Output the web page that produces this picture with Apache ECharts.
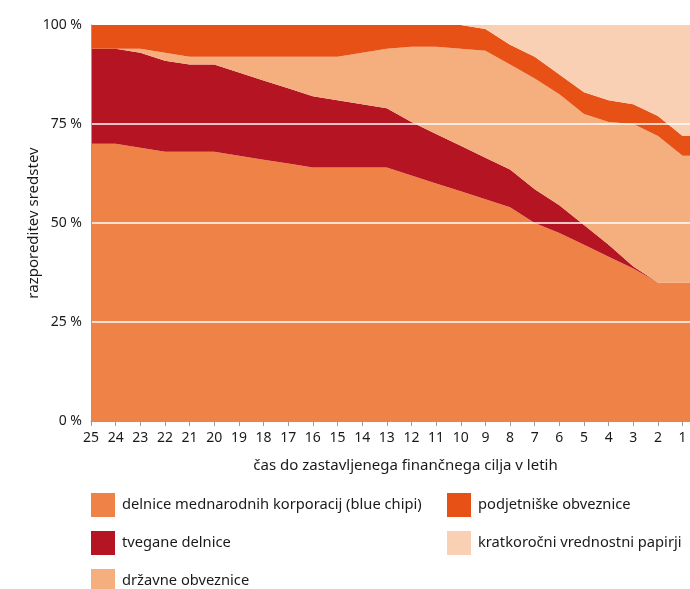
<!DOCTYPE html>
<html>
<head>
<meta charset="utf-8">
<title>razporeditev sredstev</title>
<script src="https://cdn.jsdelivr.net/npm/echarts@6/dist/echarts.min.js"></script>
<style>
    html, body { margin: 0; padding: 0; background: #fff; }
    #chart { width: 690px; height: 589px; }
</style>
</head>
<body>
<div id="chart"></div>
<script>
// leta do cilja (os x gre od 25 proti 1)
const years = [25, 24, 23, 22, 21, 20, 19, 18, 17, 16, 15, 14, 13, 12, 11, 10, 9, 8, 7, 6, 5, 4, 3, 2, 1];
const xEdge = 0.7; // desni rob risbe je malo za letom 1

// deleži v % (od spodaj navzgor)
const blueChips = [70, 70, 69, 68, 68, 68, 67, 66, 65, 64, 64, 64, 64, 62, 60, 58, 56, 54, 50, 47.5, 44.5, 41.5, 38.5, 35, 35];
const riskyStocks = [24, 24, 24, 23, 22, 22, 21, 20, 19, 18, 17, 16, 15, 13.5, 12.5, 11.5, 10.5, 9.5, 8.5, 7, 5, 3, 0.5, 0, 0];
const govBonds = [0, 0, 1, 2, 2, 2, 4, 6, 8, 10, 11, 13, 15, 19, 22, 24.5, 27, 26.5, 28, 28, 28, 31, 36, 37, 32];
const corpBonds = [6, 6, 6, 7, 8, 8, 8, 8, 8, 8, 8, 7, 6, 5.5, 5.5, 6, 5.5, 5, 5.5, 5, 5.5, 5.5, 5, 5, 5];
const shortTerm = [0, 0, 0, 0, 0, 0, 0, 0, 0, 0, 0, 0, 0, 0, 0, 0, 1, 5, 8, 12.5, 17, 19, 20, 23, 28];

const yTicks = [0, 25, 50, 75, 100];
const gridLines = [25, 50, 75];

const SERIES = [
    { name: 'delnice mednarodnih korporacij (blue chipi)', values: blueChips, color: '#EE8247' },
    { name: 'tvegane delnice', values: riskyStocks, color: '#B51522' },
    { name: 'državne obveznice', values: govBonds, color: '#F5AF7F' },
    { name: 'podjetniške obveznice', values: corpBonds, color: '#E85116' },
    { name: 'kratkoročni vrednostni papirji', values: shortTerm, color: '#F9D0B4' }
];

// mesta legend: [left, top] (legenda ima še 5 px notranjega roba)
const LEGEND_POS = [[86, 488], [86, 526], [86, 564], [442, 488], [442, 526]];

const FONT = 'Noto Sans';
const TEXT = '#1a1a1a';

function toPairs(values) {
    // [vrednost, leto] -> prva dimenzija je tista, ki se sešteva
    const pts = years.map((y, i) => [values[i], y]);
    pts.push([values[values.length - 1], xEdge]);
    return pts;
}

function buildSeries() {
    return SERIES.map((s, idx) => {
        const item = {
            name: s.name,
            type: 'line',
            stack: 'total',
            data: toPairs(s.values),
            encode: { x: 1, y: 0 },
            showSymbol: false,
            symbol: 'none',
            lineStyle: { width: 0 },
            itemStyle: { color: s.color },
            areaStyle: { color: s.color, opacity: 1 },
            silent: true
        };
        if (idx === SERIES.length - 1) {
            item.markLine = {
                silent: true,
                symbol: 'none',
                label: { show: false },
                lineStyle: { color: '#ffffff', width: 1.5, type: 'solid' },
                data: gridLines.map((v) => ({ yAxis: v }))
            };
        }
        return item;
    });
}

function buildLegends() {
    return SERIES.map((s, i) => ({
        left: LEGEND_POS[i][0],
        top: LEGEND_POS[i][1],
        icon: 'rect',
        itemWidth: 24,
        itemHeight: 24,
        selectedMode: false,
        textStyle: { fontFamily: FONT, fontSize: 14.7, color: TEXT, padding: [0, 0, 0, 2] },
        data: [s.name]
    }));
}

document.addEventListener('DOMContentLoaded', () => {
    const chart = echarts.init(document.getElementById('chart'), null, { renderer: 'canvas' });

    chart.setOption({
        animation: false,
        backgroundColor: '#ffffff',
        grid: { left: 91, right: 0, top: 25, bottom: 168 },
        legend: buildLegends(),
        xAxis: {
            type: 'value',
            inverse: true,
            min: xEdge,
            max: 25,
            z: 10,
            name: 'čas do zastavljenega finančnega cilja v letih',
            nameLocation: 'middle',
            nameGap: 37,
            nameTextStyle: { fontFamily: FONT, fontSize: 15, color: TEXT, padding: [0, 0, 0, 30] },
            axisLine: { show: true, lineStyle: { color: '#9a9a9a', width: 1 } },
            axisTick: { show: true, length: 5, customValues: years, lineStyle: { color: '#9a9a9a' } },
            axisLabel: { customValues: years, margin: 10, fontFamily: FONT, fontSize: 14, color: TEXT },
            splitLine: { show: false }
        },
        yAxis: {
            type: 'value',
            min: 0,
            max: 100,
            interval: 25,
            z: 10,
            name: 'razporeditev sredstev',
            nameLocation: 'middle',
            nameGap: 50,
            nameMoveOverlap: false,
            nameRotate: 90,
            nameTextStyle: { fontFamily: FONT, fontSize: 15, color: TEXT },
            axisLine: { show: true, lineStyle: { color: '#9a9a9a', width: 1 } },
            axisTick: { show: false },
            axisLabel: {
                margin: 9,
                fontFamily: FONT,
                fontSize: 14,
                color: TEXT,
                customValues: yTicks,
                formatter: (v) => v + ' %'
            },
            splitLine: { show: false }
        },
        series: buildSeries()
    });

    window.addEventListener('resize', () => chart.resize());
});
</script>
</body>
</html>
